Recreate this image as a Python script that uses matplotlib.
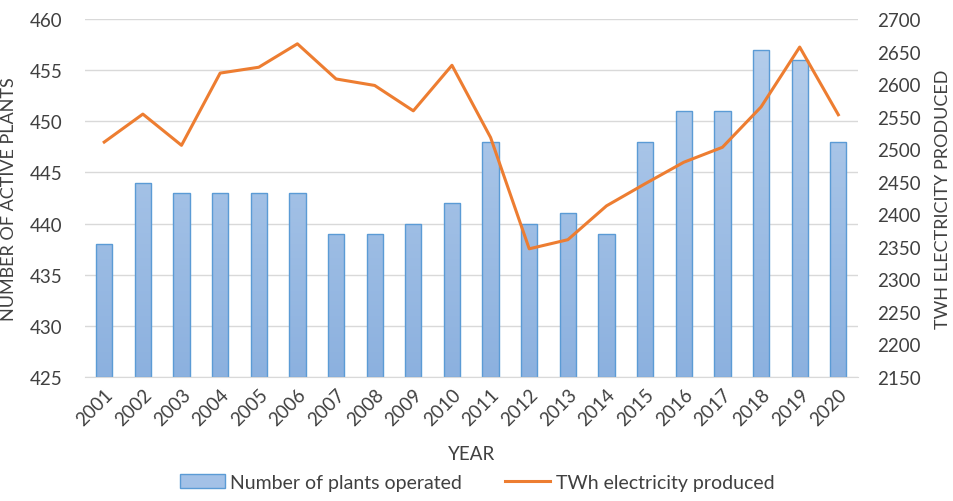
import matplotlib.pyplot as plt
import numpy as np
from matplotlib.colors import LinearSegmentedColormap
from matplotlib.patches import Patch

years = [str(y) for y in range(2001, 2021)]
plants = [438, 444, 443, 443, 443, 443, 439, 439, 440, 442,
          448, 440, 441, 439, 448, 451, 451, 457, 456, 448]
twh = [2511, 2554, 2506, 2617, 2626, 2662, 2608, 2598, 2559, 2629,
       2518, 2347, 2361, 2413, 2447, 2480, 2503, 2565, 2657, 2553]

plt.rcParams['font.family'] = ['Lato', 'DejaVu Sans']
plt.rcParams['font.size'] = 13.5
txt = '#404040'

fig = plt.figure(figsize=(9.54, 5.02), dpi=100)
ax1 = fig.add_axes([0.089, 0.247, 0.81, 0.713])
x = np.arange(len(years))

bars = ax1.bar(x, [p - 425 for p in plants], bottom=425, width=0.42,
               facecolor='none', edgecolor='#5b9bd5', linewidth=1, zorder=2)
# vertical gradient fill, light at top
grad = LinearSegmentedColormap.from_list('g', ['#8cb1df', '#b7cfec'])
for b in bars:
    x0 = b.get_x()
    im = ax1.imshow(np.linspace(0, 1, 100).reshape(-1, 1), cmap=grad,
                    extent=[x0, x0 + b.get_width(), 425, 460],
                    origin='lower', aspect='auto', zorder=1.9)
    im.set_clip_path(b)

ax1.set_ylim(425, 460)
ax1.set_yticks(range(425, 461, 5))
ax1.set_xlim(-0.5, len(years) - 0.5)
ax1.set_xticks(x)
ax1.set_xticklabels(years, rotation=45, ha='right', rotation_mode='anchor', color=txt)
ax1.set_ylabel('NUMBER OF ACTIVE PLANTS', color=txt, fontsize=13)
ax1.yaxis.set_label_coords(-0.088, 0.5)
ax1.set_xlabel('YEAR', color=txt, labelpad=12)
ax1.grid(axis='y', color='#d9d9d9', linewidth=1, zorder=0)
ax1.set_axisbelow(True)
for s in ['top', 'right', 'left']:
    ax1.spines[s].set_visible(False)
ax1.spines['bottom'].set_color('#d9d9d9')
ax1.tick_params(length=0, colors=txt, pad=6)
ax1.tick_params(axis='y', pad=16)

ax2 = ax1.twinx()
line, = ax2.plot(x, twh, color='#ed7d31', linewidth=2.2, zorder=3)
ax2.set_ylim(2150, 2700)
ax2.set_yticks(range(2150, 2701, 50))
ax2.set_ylabel('TWH ELECTRICITY PRODUCED', color=txt, rotation=90, fontsize=13)
ax2.yaxis.set_label_coords(1.1, 0.5)
for s in ax2.spines.values():
    s.set_visible(False)
ax2.tick_params(length=0, colors=txt, pad=14)

bar_handle = Patch(facecolor='#a3c1e7', edgecolor='#5b9bd5', linewidth=1)
fig.legend([bar_handle, line], ['Number of plants operated', 'TWh electricity produced'],
           loc='lower center', bbox_to_anchor=(0.5, -0.015), ncol=2, frameon=False,
           fontsize=14, handlelength=2.3, handletextpad=0.3, columnspacing=2.2,
           labelcolor=txt)

fig.savefig('out.png', dpi=100)
